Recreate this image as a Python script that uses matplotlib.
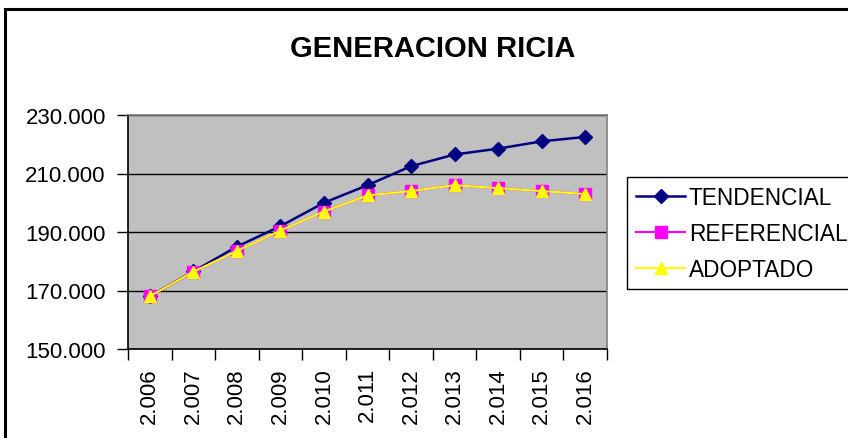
import matplotlib
matplotlib.use("Agg")
import matplotlib.pyplot as plt
from matplotlib.patches import Rectangle
from matplotlib.ticker import FuncFormatter

plt.rcParams['font.family'] = ['Liberation Sans', 'DejaVu Sans']

years = ["2.006", "2.007", "2.008", "2.009", "2.010", "2.011", "2.012", "2.013", "2.014", "2.015", "2.016"]
tendencial = [168000, 176500, 185000, 192000, 200000, 206000, 212500, 216500, 218500, 221000, 222500]
referencial = [168000, 176400, 183500, 190500, 197000, 202500, 204000, 206000, 205000, 204000, 203000]
adoptado = [168000, 176400, 183500, 190500, 197000, 202500, 204000, 206000, 205000, 204000, 203000]
yticks = [150000, 170000, 190000, 210000, 230000]

W, H = 848, 439
fig = plt.figure(figsize=(W / 100, H / 100), dpi=100)
ax = fig.add_axes([128 / W, 1 - 350 / H, (607 - 128) / W, (350 - 116) / H])
ax.set_facecolor('#C0C0C0')

x = list(range(len(years)))
ax.plot(x, tendencial, color='#000080', lw=1.8, marker='D', ms=7.5, mec='#000080', mfc='#000080', label='TENDENCIAL', zorder=3)
ax.plot(x, referencial, color='#FF00FF', lw=1.5, marker='s', ms=8, mec='#FF00FF', mfc='#FF00FF', label='REFERENCIAL', zorder=4)
ax.plot(x, adoptado, color='#FFFF00', lw=1.5, marker='^', ms=9, mec='#FFFF00', mfc='#FFFF00', label='ADOPTADO', zorder=5)

ax.set_xlim(-0.5, len(years) - 0.5)
ax.set_ylim(150000, 230000)
ax.set_yticks(yticks)
ax.yaxis.set_major_formatter(FuncFormatter(lambda v, p: f"{int(v):,}".replace(',', '.')))
ax.set_xticks([i - 0.5 for i in range(len(years) + 1)])
ax.set_xticklabels([])
ax.set_xticks(x, minor=True)
ax.set_xticklabels(years, minor=True, rotation=90, fontsize=16)
ax.tick_params(axis='x', which='minor', length=0, pad=13)
ax.tick_params(axis='x', which='major', length=8, width=1, color='black', direction='out')
ax.tick_params(axis='y', length=8, width=1, labelsize=16, pad=8, direction='out')
ax.grid(axis='y', color='black', lw=1)
ax.spines['left'].set_color('black')
ax.spines['bottom'].set_color('black')
ax.spines['top'].set_color('#808080')
ax.spines['right'].set_color('#808080')
for s in ax.spines.values():
    s.set_linewidth(1.2)

fig.text(433 / W, 1 - 49 / H, 'GENERACION RICIA', ha='center', va='center', fontsize=21, fontweight='bold')

leg = fig.legend(loc='upper left', bbox_to_anchor=(627 / W, 1 - 178 / H), fontsize=16.3,
                 frameon=True, fancybox=False, edgecolor='black', framealpha=1,
                 handlelength=2.2, handletextpad=0.15, labelspacing=0.58, borderpad=0.38,
                 borderaxespad=0)
leg.get_frame().set_linewidth(1)

fig.patches.append(Rectangle((5 / W, -0.1), 2, (H - 10) / H + 0.1, transform=fig.transFigure,
                             fill=False, edgecolor='black', lw=2.2))

fig.savefig('out.png', dpi=100)
